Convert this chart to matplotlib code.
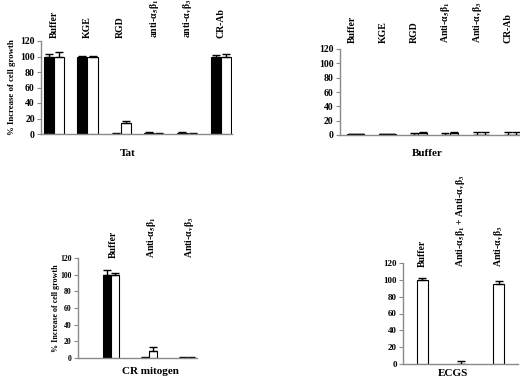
import matplotlib
matplotlib.use("Agg")
import matplotlib.pyplot as plt
import numpy as np

plt.rcParams['font.family'] = ['Liberation Serif', 'DejaVu Serif']
plt.rcParams['font.weight'] = 'bold'
plt.rcParams['mathtext.fontset'] = 'stix'
plt.rcParams['mathtext.default'] = 'bf'

# ---- data ----
tat_categories = ["Buffer", "KGE", "RGD", "anti-α$_5$β$_1$", "anti-α$_v$β$_3$", "CR-Ab"]
tat_black = [100, 100, 0.5, 1, 1, 100]
tat_black_err = [3, 1, 0.3, 1.5, 1.5, 1.5]
tat_white = [100, 100, 14, 0.5, 0.5, 100]
tat_white_err = [6, 1, 3, 0.3, 0.3, 3]

buf_categories = ["Buffer", "KGE", "RGD", "Anti-α$_5$β$_1$", "Anti-α$_v$β$_3$", "CR-Ab"]
buf_black = [1, 1, 0.5, 0.5, 0.5, 0.5]
buf_black_err = [0.5, 0.5, 2.5, 2.5, 3, 3]
buf_white = [1, 1, 2.5, 2.5, 0.5, 0.5]
buf_white_err = [0.5, 0.5, 1, 1, 3, 3]

crm_categories = ["Buffer", "Anti-α$_5$β$_1$", "Anti-α$_v$β$_3$"]
crm_black = [100, 0.5, 0.5]
crm_black_err = [6, 0.3, 0.5]
crm_white = [100, 9, 0.5]
crm_white_err = [2, 4, 0.5]

ecgs_categories = ["Buffer", "Anti-α$_5$β$_1$ + Anti-α$_v$β$_3$", "Anti-α$_v$β$_3$"]
ecgs_white = [100, 0, 95]
ecgs_white_err = [2, 4, 4]

yticks = [0, 20, 40, 60, 80, 100, 120]

W, H = 520, 379
fig = plt.figure(figsize=(W / 100, H / 100), dpi=100)

GRAY = '#8a8a8a'


def add_ax(left, right, y0, ytop, z):
    ax = fig.add_axes([left / W, 1 - y0 / H, (right - left) / W, (y0 - ytop) / H])
    ax.set_zorder(z)
    ax.patch.set_visible(False)
    return ax


def style(ax, xlim, tick_fs):
    ax.set_ylim(0, 120)
    ax.set_xlim(*xlim)
    ax.set_yticks(yticks)
    ax.set_yticklabels([str(t) for t in yticks], fontsize=tick_fs, fontweight='bold')
    ax.set_xticks([])
    for s in ['top', 'right']:
        ax.spines[s].set_visible(False)
    for s in ['left', 'bottom']:
        ax.spines[s].set_color(GRAY)
        ax.spines[s].set_linewidth(1)
    ax.tick_params(axis='y', length=3, width=0.8, color=GRAY, pad=1.5,
                   labelleft=True)


def draw_bars(ax, x, vals, errs, width, color):
    ax.bar(x, vals, width, color=color, edgecolor='black', linewidth=0.8,
           yerr=[np.zeros(len(errs)), errs],
           error_kw=dict(ecolor='black', elinewidth=1, capsize=2.8, capthick=1))


def cat_labels(ax, x, labels, pad_px):
    for xi, lab in zip(x, labels):
        ax.annotate(lab, xy=(xi, 1), xycoords=('data', 'axes fraction'),
                    xytext=(0, pad_px * 0.72), textcoords='offset points',
                    rotation=90, ha='center', va='bottom', fontsize=7,
                    fontweight='bold', annotation_clip=False)


# Panel 1: Tat
ax1 = add_ax(41, 232, 134, 41, 10)
x = np.arange(len(tat_categories))
w = 0.31
draw_bars(ax1, x - w / 2, tat_black, tat_black_err, w, 'black')
draw_bars(ax1, x + w / 2, tat_white, tat_white_err, w, 'white')
style(ax1, (-0.39, 5.33), 7)
cat_labels(ax1, x, tat_categories, 3)
ax1.set_ylabel("% Increase of cell growth", fontsize=6.3, fontweight='bold', labelpad=3)

# Panel 2: Buffer
ax2 = add_ax(340, 519, 135, 49, 9)
x = np.arange(len(buf_categories))
w = 0.27
draw_bars(ax2, x - w / 2, buf_black, buf_black_err, w, 'black')
draw_bars(ax2, x + w / 2, buf_white, buf_white_err, w, 'white')
style(ax2, (-0.51, 5.22), 7)
cat_labels(ax2, x - 0.12, buf_categories, 6)

# Panel 3: CR mitogen
ax3 = add_ax(78, 197, 358, 258, 8)
x = np.arange(len(crm_categories))
w = 0.22
draw_bars(ax3, x - w / 2, crm_black, crm_black_err, w, 'black')
draw_bars(ax3, x + w / 2, crm_white, crm_white_err, w, 'white')
style(ax3, (-0.87, 2.26), 5.6)
cat_labels(ax3, x + 0.06, crm_categories, 0)
ax3.set_ylabel("% Increase of cell growth", fontsize=5.8, fontweight='bold', labelpad=0.5)

# Panel 4: ECGS
ax4 = add_ax(403, 518, 364, 263, 7)
x = np.arange(len(ecgs_categories))
w = 0.29
draw_bars(ax4, x, ecgs_white, ecgs_white_err, w, 'white')
style(ax4, (-0.51, 2.5), 6.5)
cat_labels(ax4, x, ecgs_categories, -4)

# Titles
fig.text(128 / W, 1 - 153 / H, "Tat", ha='center', va='center', fontsize=8, fontweight='bold')
fig.text(427 / W, 1 - 153 / H, "Buffer", ha='center', va='center', fontsize=8, fontweight='bold')
fig.text(150 / W, 1 - 372 / H, "CR mitogen", ha='center', va='center', fontsize=8, fontweight='bold')
fig.text(453 / W, 1 - 373 / H, "ECGS", ha='center', va='center', fontsize=8, fontweight='bold')

fig.savefig("out.png", dpi=100)
